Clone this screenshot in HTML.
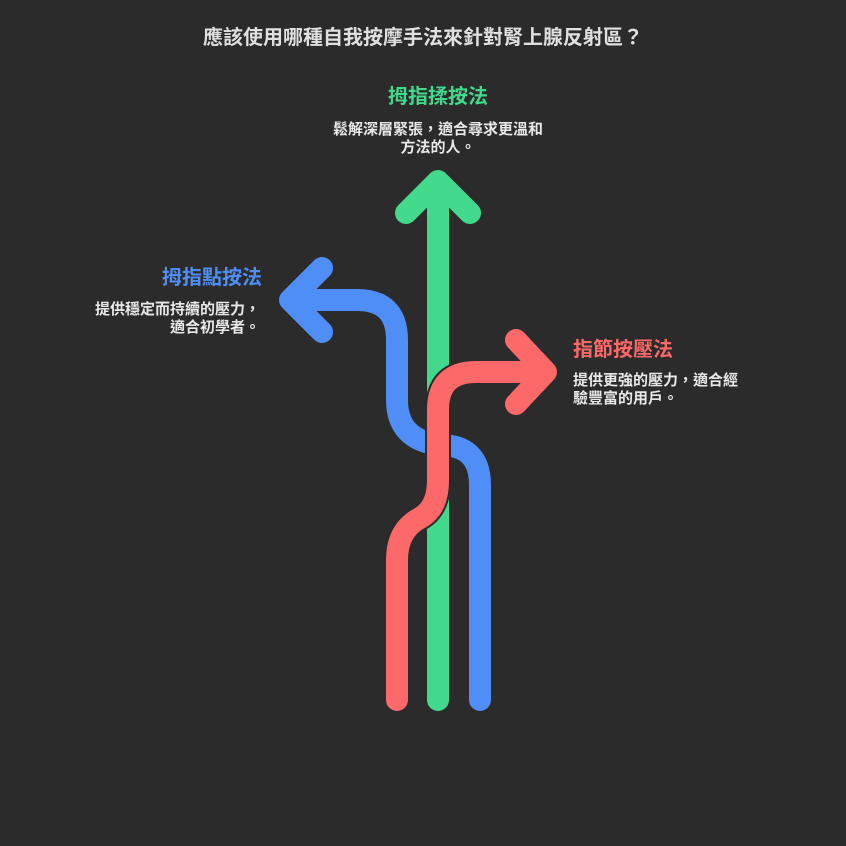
<!DOCTYPE html>
<html><head><meta charset="utf-8"><style>
body{margin:0;width:846px;height:846px;background:#2b2b2b;overflow:hidden;position:relative;font-family:"Liberation Sans","Noto Sans CJK TC",sans-serif}
.t{position:absolute;white-space:nowrap}
</style></head><body>
<svg width="846" height="846" style="position:absolute;left:0;top:0" fill="none" stroke-linecap="round" stroke-linejoin="round">
<path d="M480 700 V485 Q480 445 440 445 Q397 440 397 400 V340 Q397 300 357 300 H290 M322 268 L290 300 L322 332" stroke="#4f8ef7" stroke-width="22"/>
<path d="M438 700 V185" stroke="#2b2b2b" stroke-width="26"/>
<path d="M438 700 V185 M406 213 L438 181 L470 213" stroke="#43d98c" stroke-width="22"/>
<path d="M397 700 V560 Q397 530 420 518 Q438 508 438 480 V410 Q438 372 476 372 H540" stroke="#2b2b2b" stroke-width="26"/>
<path d="M397 700 V560 Q397 530 420 518 Q438 508 438 480 V410 Q438 372 476 372 H540 M516 340 L546 372 L516 404" stroke="#fd6868" stroke-width="22"/>
</svg>
<div class="t" style="left:0;width:846px;text-align:center;top:21px;font-size:20px;font-weight:bold;color:#e0e0e0">應該使用哪種自我按摩手法來針對腎上腺反射區？</div>
<div class="t" style="left:338px;width:200px;text-align:center;top:80px;font-size:20px;font-weight:bold;color:#43d98c">拇指揉按法</div>
<div class="t" style="left:288px;width:300px;text-align:center;top:121px;font-size:15px;font-weight:bold;color:#e8e8e8;line-height:18px">鬆解深層緊張，適合尋求更溫和<br>方法的人。</div>
<div class="t" style="left:40px;width:222px;text-align:right;top:261px;font-size:20px;font-weight:bold;color:#4f8ef7">拇指點按法</div>
<div class="t" style="left:40px;width:220px;text-align:right;top:301px;font-size:15px;font-weight:bold;color:#e8e8e8;line-height:18px">提供穩定而持續的壓力，<br>適合初學者。</div>
<div class="t" style="left:573px;top:333px;font-size:20px;font-weight:bold;color:#fd6868">指節按壓法</div>
<div class="t" style="left:573px;top:372px;font-size:15px;font-weight:bold;color:#e8e8e8;line-height:18px">提供更強的壓力，適合經<br>驗豐富的用戶。</div>
</body></html>
